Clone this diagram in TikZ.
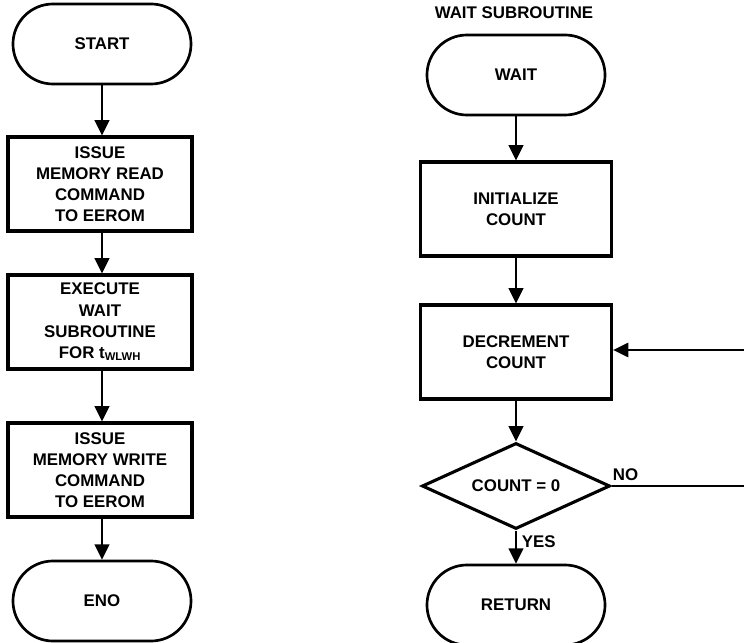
\documentclass[tikz,border=0pt]{standalone}
\usepackage{fontspec}
\setmainfont{Liberation Sans}
\usetikzlibrary{arrows.meta,shapes.geometric}
\begin{document}
\begin{tikzpicture}[x=0.025cm, y=-0.025cm,
  every node/.style={font=\bfseries\fontsize{12}{15}\selectfont, align=center},
  term/.style={draw, line width=1.9pt, rounded corners=1cm, minimum width=4.45cm, minimum height=2cm},
  procbox/.style={draw, line width=2.2pt, minimum width=4.6cm, minimum height=2.35cm},
  decide/.style={draw, line width=2.2pt, shape=diamond, aspect=2.2, inner sep=0pt, minimum width=4.7cm, minimum height=2.15cm},
  flow/.style={line width=1.8pt, -{Triangle[width=0.36cm,length=0.38cm]}}]
\useasboundingbox (0,0) rectangle (744,643);
% main routine
\node[term] (start) at (102,44) {START};
\node[procbox] (rdcmd) at (100,184) {ISSUE\\MEMORY READ\\COMMAND\\TO EEROM};
\node[procbox] (execwait) at (100,322) {EXECUTE\\WAIT\\SUBROUTINE\\FOR t\textsubscript{WLWH}};
\node[procbox] (wrcmd) at (100,470) {ISSUE\\MEMORY WRITE\\COMMAND\\TO EEROM};
\node[term] (enode) at (102,601) {ENO};
\draw[flow] (start) -- (start |- rdcmd.north);
\draw[flow] (rdcmd.south -| start) -- (start |- execwait.north);
\draw[flow] (execwait.south -| start) -- (start |- wrcmd.north);
\draw[flow] (wrcmd.south -| start) -- (enode);
% wait subroutine
\node (title) at (514,13) {WAIT SUBROUTINE};
\node[term] (wait) at (516,75) {WAIT};
\node[procbox, minimum width=4.78cm] (init) at (516,209) {INITIALIZE\\COUNT};
\node[procbox, minimum width=4.78cm] (decr) at (516,352) {DECREMENT\\COUNT};
\node[decide] (test) at (516,486) {COUNT = 0};
\node[term] (ret) at (516,605) {RETURN};
\coordinate (lpb) at (752,486);
\coordinate (lpt) at (752,350);
\draw[flow] (wait) -- (init);
\draw[flow] (init) -- (decr);
\draw[flow] (decr) -- (test);
\draw[flow] (test) -- node[right, pos=0.35] (yes) {YES} (ret);
\draw[flow, line width=1.2pt] (test.east) -- node[above, pos=0.1] (no) {NO} (lpb) -- (lpt) -- (decr.east |- lpt);
\end{tikzpicture}
\end{document}
